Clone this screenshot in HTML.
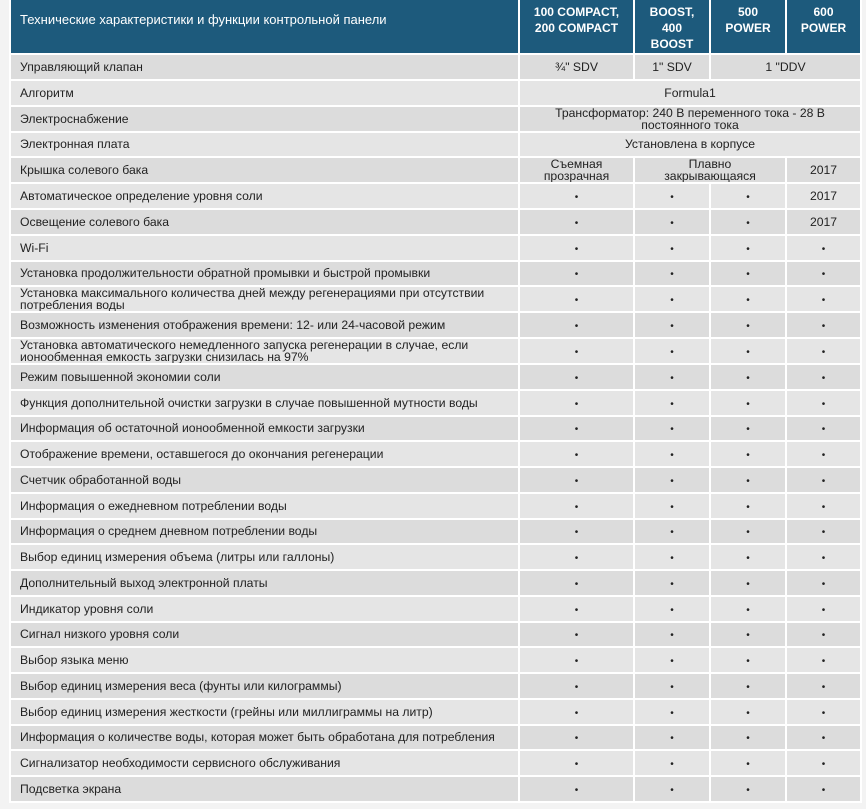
<!DOCTYPE html>
<html><head><meta charset="utf-8"><style>
body{margin:0;background:#f3f3f3;width:866px;height:809px;overflow:hidden;font-family:"Liberation Sans",sans-serif;}
table{position:absolute;left:9px;top:-2px;border-collapse:separate;border-spacing:2px;table-layout:fixed;background:#fff;}
td{padding:0;font-size:12.2px;color:#222;text-align:center;vertical-align:middle;line-height:12px;height:23.76px;overflow:hidden;}
td.l{text-align:left;padding-left:9px;}
tr:nth-child(even) td{background:#dcdcdc;}
tr:nth-child(odd) td{background:#e5e5e5;}
tr.h td{background:#1d5a7c;color:#fff;height:53px;vertical-align:top;font-weight:bold;font-size:12px;line-height:16px;padding-top:4px;box-sizing:border-box;}
tr.h td.l{font-weight:normal;font-size:13px;padding-top:12px;}
.d{font-size:10px;padding-top:4px;box-sizing:border-box;}
</style></head><body>
<table>
<colgroup><col style="width:507px"><col style="width:113px"><col style="width:74px"><col style="width:74px"><col style="width:73px"></colgroup>
<tr class="h"><td class="l">Технические характеристики и функции контрольной панели</td><td>100 COMPACT,<br>200 COMPACT</td><td>BOOST,<br>400<br>BOOST</td><td>500<br>POWER</td><td>600<br>POWER</td></tr>
<tr><td class="l">Управляющий клапан</td><td>¾" SDV</td><td>1" SDV</td><td colspan="2">1 "DDV</td></tr>
<tr><td class="l">Алгоритм</td><td colspan="4">Formula1</td></tr>
<tr><td class="l">Электроснабжение</td><td colspan="4">Трансформатор: 240 В переменного тока - 28 В<br>постоянного тока</td></tr>
<tr><td class="l">Электронная плата</td><td colspan="4">Установлена в корпусе</td></tr>
<tr><td class="l">Крышка солевого бака</td><td>Съемная<br>прозрачная</td><td colspan="2">Плавно<br>закрывающаяся</td><td>2017</td></tr>
<tr><td class="l">Автоматическое определение уровня соли</td><td class="d">•</td><td class="d">•</td><td class="d">•</td><td>2017</td></tr>
<tr><td class="l">Освещение солевого бака</td><td class="d">•</td><td class="d">•</td><td class="d">•</td><td>2017</td></tr>
<tr><td class="l">Wi-Fi</td><td class="d">•</td><td class="d">•</td><td class="d">•</td><td class="d">•</td></tr>
<tr><td class="l">Установка продолжительности обратной промывки и быстрой промывки</td><td class="d">•</td><td class="d">•</td><td class="d">•</td><td class="d">•</td></tr>
<tr><td class="l">Установка максимального количества дней между регенерациями при отсутствии<br>потребления воды</td><td class="d">•</td><td class="d">•</td><td class="d">•</td><td class="d">•</td></tr>
<tr><td class="l">Возможность изменения отображения времени: 12- или 24-часовой режим</td><td class="d">•</td><td class="d">•</td><td class="d">•</td><td class="d">•</td></tr>
<tr><td class="l">Установка автоматического немедленного запуска регенерации в случае, если<br>ионообменная емкость загрузки снизилась на 97%</td><td class="d">•</td><td class="d">•</td><td class="d">•</td><td class="d">•</td></tr>
<tr><td class="l">Режим повышенной экономии соли</td><td class="d">•</td><td class="d">•</td><td class="d">•</td><td class="d">•</td></tr>
<tr><td class="l">Функция дополнительной очистки загрузки в случае повышенной мутности воды</td><td class="d">•</td><td class="d">•</td><td class="d">•</td><td class="d">•</td></tr>
<tr><td class="l">Информация об остаточной ионообменной емкости загрузки</td><td class="d">•</td><td class="d">•</td><td class="d">•</td><td class="d">•</td></tr>
<tr><td class="l">Отображение времени, оставшегося до окончания регенерации</td><td class="d">•</td><td class="d">•</td><td class="d">•</td><td class="d">•</td></tr>
<tr><td class="l">Счетчик обработанной воды</td><td class="d">•</td><td class="d">•</td><td class="d">•</td><td class="d">•</td></tr>
<tr><td class="l">Информация о ежедневном потреблении воды</td><td class="d">•</td><td class="d">•</td><td class="d">•</td><td class="d">•</td></tr>
<tr><td class="l">Информация о среднем дневном потреблении воды</td><td class="d">•</td><td class="d">•</td><td class="d">•</td><td class="d">•</td></tr>
<tr><td class="l">Выбор единиц измерения объема (литры или галлоны)</td><td class="d">•</td><td class="d">•</td><td class="d">•</td><td class="d">•</td></tr>
<tr><td class="l">Дополнительный выход электронной платы</td><td class="d">•</td><td class="d">•</td><td class="d">•</td><td class="d">•</td></tr>
<tr><td class="l">Индикатор уровня соли</td><td class="d">•</td><td class="d">•</td><td class="d">•</td><td class="d">•</td></tr>
<tr><td class="l">Сигнал низкого уровня соли</td><td class="d">•</td><td class="d">•</td><td class="d">•</td><td class="d">•</td></tr>
<tr><td class="l">Выбор языка меню</td><td class="d">•</td><td class="d">•</td><td class="d">•</td><td class="d">•</td></tr>
<tr><td class="l">Выбор единиц измерения веса (фунты или килограммы)</td><td class="d">•</td><td class="d">•</td><td class="d">•</td><td class="d">•</td></tr>
<tr><td class="l">Выбор единиц измерения жесткости (грейны или миллиграммы на литр)</td><td class="d">•</td><td class="d">•</td><td class="d">•</td><td class="d">•</td></tr>
<tr><td class="l">Информация о количестве воды, которая может быть обработана для потребления</td><td class="d">•</td><td class="d">•</td><td class="d">•</td><td class="d">•</td></tr>
<tr><td class="l">Сигнализатор необходимости сервисного обслуживания</td><td class="d">•</td><td class="d">•</td><td class="d">•</td><td class="d">•</td></tr>
<tr><td class="l">Подсветка экрана</td><td class="d">•</td><td class="d">•</td><td class="d">•</td><td class="d">•</td></tr>
</table>
</body></html>
